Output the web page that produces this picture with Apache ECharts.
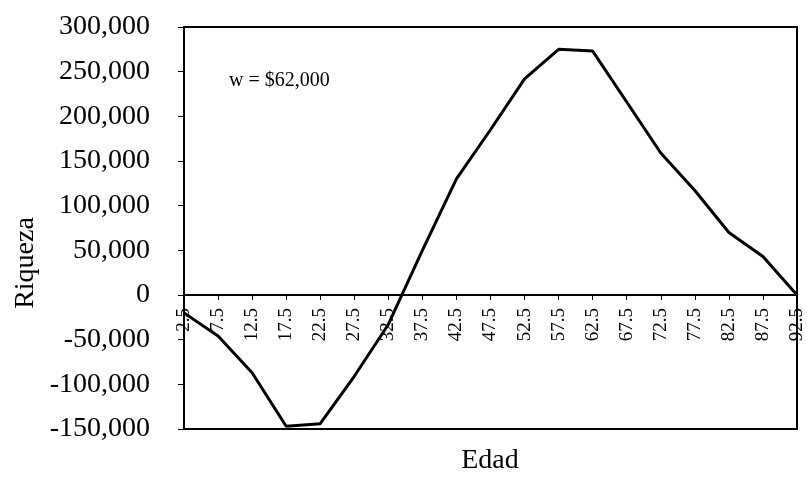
<!DOCTYPE html>
<html>
<head>
<meta charset="utf-8">
<script src="https://cdn.jsdelivr.net/npm/echarts@6/dist/echarts.min.js"></script>
<style>
  html, body { margin: 0; padding: 0; background: #fff; }
  #chart { width: 807px; height: 482px; }
</style>
</head>
<body>
<div id="chart"></div>
<script>
// Age brackets (x axis categories)
var edades = ['2.5', '7.5', '12.5', '17.5', '22.5', '27.5', '32.5', '37.5', '42.5', '47.5',
              '52.5', '57.5', '62.5', '67.5', '72.5', '77.5', '82.5', '87.5', '92.5'];
// Wealth by age
var riqueza = [-20000, -46000, -87000, -147000, -144000, -91000, -33000, 50000, 130000, 185000,
               242000, 275000, 273000, 216000, 159000, 117000, 70000, 43000, 0];
// Y axis range
var yMin = -150000, yMax = 300000, yStep = 50000;
var etiqueta = 'w = $62,000';

var serif = '"Liberation Serif", "DejaVu Serif", serif';

// plot frame
var gridTop = 27, gridBottom = 53, gridLeft = 184, gridRight = 10;
var plotH = 482 - gridTop - gridBottom;
// lift the category axis (line, ticks and labels) up to the zero line
var zeroOffset = -plotH * (0 - yMin) / (yMax - yMin);

function fmtMiles(v) {
  var s = Math.abs(v).toString().replace(/\B(?=(\d{3})+(?!\d))/g, ',');
  return (v < 0 ? '-' : '') + s;
}

var chart = echarts.init(document.getElementById('chart'));
chart.setOption({
  animation: false,
  backgroundColor: '#fff',
  grid: {
    left: gridLeft, right: gridRight, top: gridTop, bottom: gridBottom,
    show: true, borderColor: '#000', borderWidth: 2, backgroundColor: 'transparent'
  },
  xAxis: {
    type: 'category',
    data: edades,
    boundaryGap: false,
    offset: zeroOffset,
    axisLine: { onZero: false, lineStyle: { color: '#000', width: 2 } },
    axisTick: { show: true, length: 5, lineStyle: { color: '#000', width: 1 } },
    axisLabel: {
      rotate: 90, margin: 13, interval: 0,
      fontFamily: serif, fontSize: 19, color: '#000'
    },
    splitLine: { show: false }
  },
  yAxis: {
    type: 'value',
    min: yMin, max: yMax, interval: yStep,
    axisLine: { show: true, lineStyle: { color: '#000', width: 2 } },
    axisTick: { show: true, length: 6, lineStyle: { color: '#000', width: 1 } },
    axisLabel: {
      margin: 34, fontFamily: serif, fontSize: 28, color: '#000',
      formatter: fmtMiles
    },
    splitLine: { show: false }
  },
  graphic: [
    {
      type: 'text', left: 229, top: 71,
      style: { text: etiqueta, fontFamily: serif, fontSize: 20, fill: '#000' }
    },
    {
      type: 'text', x: 26, y: 263, rotation: Math.PI / 2,
      style: { text: 'Riqueza', fontFamily: serif, fontSize: 28, fill: '#000',
               textAlign: 'center', textVerticalAlign: 'middle' }
    },
    {
      type: 'text', x: 490, y: 461,
      style: { text: 'Edad', fontFamily: serif, fontSize: 28, fill: '#000',
               textAlign: 'center', textVerticalAlign: 'middle' }
    }
  ],
  series: [{
    type: 'line',
    data: riqueza,
    showSymbol: false,
    symbol: 'none',
    lineStyle: { color: '#000', width: 3 },
    z: 3
  }]
});
</script>
</body>
</html>
